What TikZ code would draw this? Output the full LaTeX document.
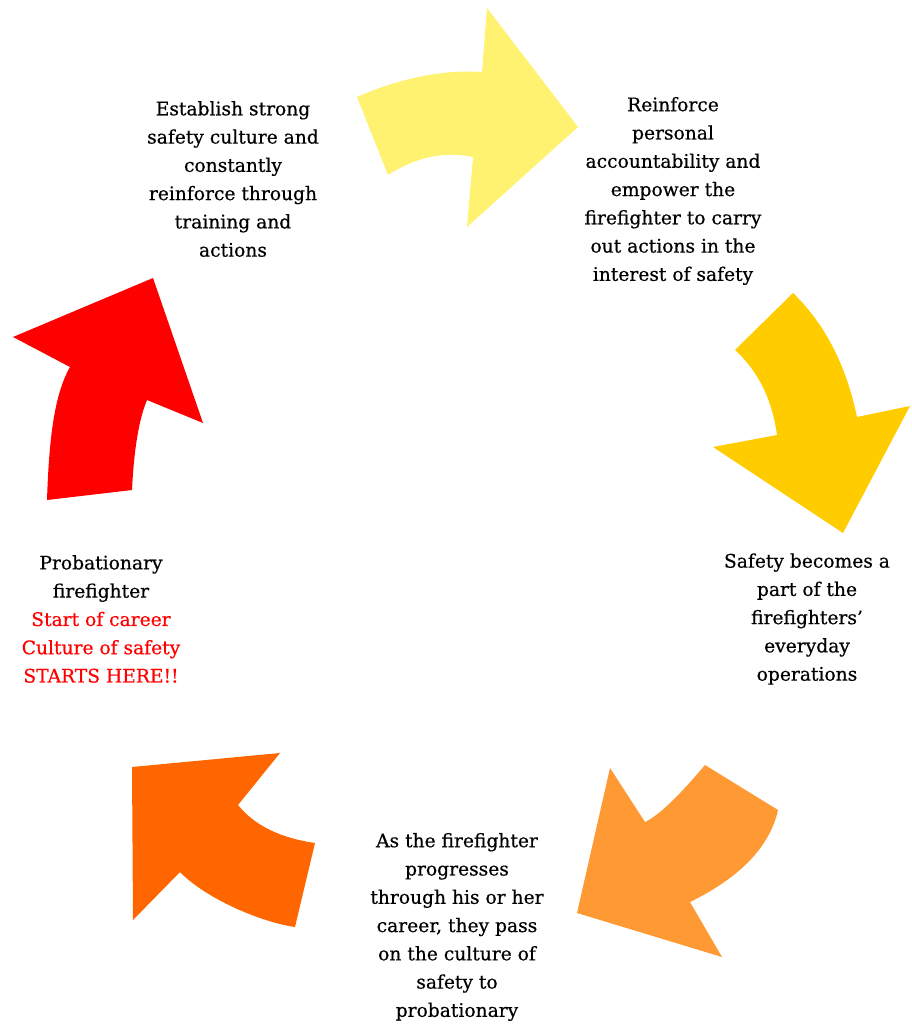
\documentclass[tikz,border=0pt]{standalone}
\usepackage{fontspec}
\setmainfont{DejaVu Serif}
\newfontfamily\slabfont[FakeBold=0.5,Ligatures=TeX]{DejaVu Serif}
\definecolor{paleyellow}{RGB}{255,242,112}
\definecolor{goldyellow}{RGB}{255,204,0}
\definecolor{lightorange}{RGB}{255,153,51}
\definecolor{darkorange}{RGB}{255,102,0}
\definecolor{alertred}{RGB}{255,0,0}
\begin{document}
\begin{tikzpicture}[x=0.75pt,y=0.75pt,yscale=-1,xscale=1,
  blurb/.style={align=center,inner sep=0.75pt,font=\slabfont\fontsize{14}{21.2}\selectfont},
  bend/.style={draw=none,fill=#1}]
\useasboundingbox (0,0) rectangle (911,1027);

%Shape: Curved Right Arrow
\path [bend=paleyellow] (357,97) .. controls (395,80) and (441,69) .. (482,72) -- (487,8) -- (578,127) -- (467,227) -- (473,157) .. controls (444,151) and (416,157) .. (388,175) -- cycle ;
%Shape: Curved Down Arrow
\path [bend=goldyellow] (793,293) .. controls (825,324) and (846,365) .. (857,417) -- (910,406) -- (843,533) -- (713,447) -- (777,435) .. controls (772,399) and (758,371) .. (735,350) -- cycle ;
%Shape: Curved Left Arrow
\path [bend=lightorange] (778,810) .. controls (770,846) and (741,877) .. (690,902) -- (722,957) -- (577,913) -- (610,768) -- (645,822) .. controls (658,816) and (678,797) .. (705,765) -- cycle ;
%Shape: Curved Up-Left Arrow
\path [bend=darkorange] (238,805) .. controls (255,826) and (281,838) .. (315,843) -- (295,927) .. controls (260,922) and (205,898) .. (180,872) -- (133,920) -- (132,767) -- (280,753) -- cycle ;
%Shape: Curved Up Arrow
\path [bend=alertred] (147,400) .. controls (139,419) and (134,449) .. (132,490) -- (47,500) .. controls (49,440) and (54,395) .. (70,367) -- (13,337) -- (153,278) -- (203,423) -- cycle ;

% Text Node
\node (culture) at (233,179) [blurb] {Establish strong\\safety culture and\\constantly\\reinforce through\\training and\\actions};
% Text Node
\node (accountable) at (673,191) [blurb] {Reinforce\\personal\\accountability and\\empower the\\firefighter to carry\\out actions in the\\interest of safety};
% Text Node
\node (everyday) at (807,619) [blurb] {Safety becomes a\\part of the\\firefighters’\\everyday\\operations};
% Text Node
\node (passon) at (457,927) [blurb] {As the firefighter\\progresses\\through his or her\\career, they pass\\on the culture of\\safety to\\probationary};
% Text Node
\node (probie) at (101,619) [blurb] {Probationary\\firefighter\\\textcolor{alertred}{Start of career}\\\textcolor{alertred}{Culture of safety}\\\textcolor{alertred}{STARTS HERE!!}};

\end{tikzpicture}
\end{document}
